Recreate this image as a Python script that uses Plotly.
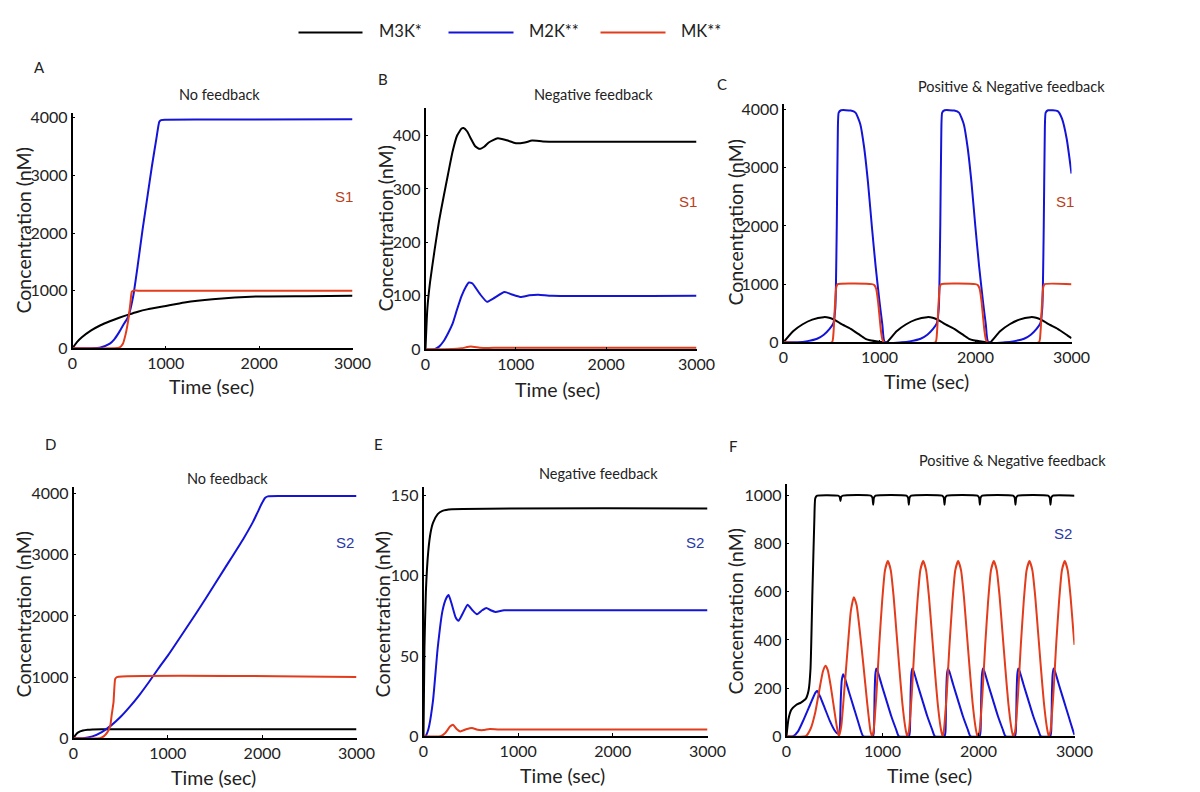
import plotly.graph_objects as go

W, H = 1200, 792

# ---------------- DATA ----------------
# Panel A: No feedback, S1
A_t_m3k = [0, 50, 100, 200, 300, 400, 500, 600, 700, 800, 1000, 1200, 1500, 2000, 2500, 3000]
A_m3k = [0, 110, 190, 310, 400, 470, 530, 585, 635, 675, 735, 795, 850, 900, 905, 910]
A_t_m2k = [0, 200, 300, 400, 450, 500, 550, 600, 650, 700, 750, 800, 850, 900, 930, 950, 1000, 1600, 3000]
A_m2k = [0, 2, 15, 80, 160, 280, 420, 560, 900, 1450, 2050, 2600, 3150, 3650, 3930, 3960, 3965, 3970, 3975]
A_t_mk = [0, 450, 500, 540, 570, 600, 620, 635, 650, 700, 3000]
A_mk = [0, 0, 10, 80, 250, 520, 780, 980, 1000, 1000, 1000]

# Panel B: Negative feedback, S1
B_t_m3k = [0, 20, 50, 100, 150, 200, 250, 300, 350, 400, 420, 460, 500, 550, 600, 650, 700, 800, 900, 1000, 1100, 1180, 1300, 1500, 3000]
B_m3k = [0, 75, 125, 185, 240, 285, 328, 370, 400, 413, 414, 408, 395, 380, 375, 379, 387, 395, 391, 385.5, 387, 390.5, 389, 388.5, 388.5]
B_t_m2k = [0, 100, 150, 200, 250, 300, 350, 400, 450, 480, 520, 600, 680, 750, 875, 950, 1050, 1150, 1250, 1400, 3000]
B_m2k = [0, 0, 5, 15, 30, 48, 75, 100, 118, 125, 123, 104, 89, 95, 107, 103, 98, 101, 102, 100, 100]
B_t_mk = [0, 300, 400, 500, 600, 700, 800, 1000, 3000]
B_mk = [0, 0.5, 2, 5, 3, 2.5, 3, 3, 3]

# Panel C: Positive & Negative feedback, S1
C_t_m3k = [0, 100, 200, 300, 418, 450, 500, 550, 600, 700, 800, 860, 900, 1000, 1062,
           1078, 1178, 1278, 1378, 1496, 1528, 1578, 1628, 1678, 1778, 1878, 1938, 1978, 2078, 2140,
           2156, 2256, 2356, 2456, 2574, 2606, 2656, 2706, 2756, 2856, 2956, 3000]
C_m3k = [0, 190, 310, 390, 432, 430, 410, 370, 315, 230, 120, 55, 35, 10, 0,
         0, 190, 310, 390, 432, 430, 410, 370, 315, 230, 120, 55, 35, 10, 0,
         0, 190, 310, 390, 432, 430, 410, 370, 315, 230, 120, 70]
C_t_m2k = [0, 150, 250, 350, 420, 480, 520, 540, 555, 565, 575, 600, 700, 750, 800, 840, 880, 920, 960, 1000, 1030, 1055,
           1228, 1328, 1428, 1498, 1558, 1598, 1618, 1633, 1643, 1653, 1678, 1778, 1828, 1878, 1918, 1958, 1998, 2038, 2078, 2108, 2133,
           2306, 2406, 2506, 2576, 2636, 2676, 2696, 2711, 2721, 2731, 2756, 2856, 2900, 2950, 3000]
C_m2k = [0, 0, 20, 60, 130, 230, 330, 600, 2000, 3500, 3950, 3990, 3985, 3950, 3750, 3350, 2750, 2000, 1300, 700, 300, 0,
         0, 20, 60, 130, 230, 330, 600, 2000, 3500, 3950, 3990, 3985, 3950, 3750, 3350, 2750, 2000, 1300, 700, 300, 0,
         0, 20, 60, 130, 230, 330, 600, 2000, 3500, 3950, 3990, 3975, 3850, 3500, 2900]
C_t_mk = [0, 505, 520, 535, 550, 565, 920, 945, 965, 985, 1000, 1015, 1030, 1045,
          1583, 1598, 1613, 1628, 1643, 1998, 2023, 2043, 2063, 2078, 2093, 2108, 2123,
          2661, 2676, 2691, 2706, 2721, 3000]
C_mk = [0, 0, 150, 600, 950, 1000, 1000, 985, 920, 700, 450, 200, 50, 0,
        0, 150, 600, 950, 1000, 1000, 985, 920, 700, 450, 200, 50, 0,
        0, 150, 600, 950, 1000, 1000]

# Panel D: No feedback, S2
D_t_m3k = [0, 25, 50, 100, 150, 200, 300, 3000]
D_m3k = [0, 60, 95, 125, 138, 143, 145, 145]
D_t_m2k = [0, 100, 200, 300, 400, 500, 600, 700, 800, 900, 1000, 1200, 1400, 1600, 1800, 1900, 1950, 2000, 2030, 2060, 2200, 3000]
D_m2k = [0, 0, 30, 100, 210, 350, 520, 710, 920, 1140, 1350, 1810, 2280, 2770, 3260, 3530, 3690, 3850, 3930, 3955, 3960, 3960]
D_t_mk = [0, 280, 320, 360, 389, 405, 424, 442, 460, 3000]
D_mk = [0, 0, 30, 100, 200, 380, 585, 970, 1000, 1000]

# Panel E: Negative feedback, S2
E_t_m3k = [0, 10, 25, 50, 75, 100, 150, 200, 300, 3000]
E_m3k = [0, 55, 90, 115, 127, 133, 138.5, 140.5, 141.5, 142]
E_t_m2k = [0, 20, 50, 100, 150, 200, 240, 265, 300, 340, 370, 410, 466, 510, 565, 620, 664, 710, 760, 850, 1000, 3000]
E_m2k = [0, 0, 4, 22, 55, 78, 86, 88, 82, 74, 72, 76, 82, 79, 76, 78.5, 80, 78.5, 77.5, 78.5, 78.5, 78.5]
E_t_mk = [0, 180, 230, 280, 311, 350, 388, 450, 512, 570, 630, 700, 800, 3000]
E_mk = [0, 0, 2, 6, 7.2, 4.5, 3, 4.3, 5.1, 4, 3.8, 4.5, 4.2, 4.2]

# Panel F: Positive & Negative feedback, S2
F_t_m3k = [0, 20, 50, 100, 150, 200, 230, 250, 270, 290, 300, 320,
           537, 554, 562, 570, 587,
           878, 895, 903, 911, 928,
           1249, 1266, 1274, 1282, 1299,
           1621, 1638, 1646, 1654, 1671,
           1989, 2006, 2014, 2022, 2039,
           2360, 2377, 2385, 2393, 2410,
           2725, 2742, 2750, 2758, 2775, 3000]
F_m3k = [0, 70, 110, 130, 140, 155, 190, 280, 600, 900, 990, 1000,
         1000, 995, 978, 995, 1000,
         1000, 992, 962, 992, 1000,
         1000, 992, 962, 992, 1000,
         1000, 992, 962, 992, 1000,
         1000, 992, 962, 992, 1000,
         1000, 992, 962, 992, 1000,
         1000, 992, 962, 992, 1000, 1000]
F_t_m2k = [0, 70, 120, 180, 250, 300, 319, 350, 400, 450, 500, 528, 545, 555, 565, 575, 590, 610, 650, 700, 750, 799,
           900, 910, 918, 925, 935, 950, 990, 1040, 1090, 1140, 1170,
           1275, 1285, 1293, 1300, 1310, 1325, 1365, 1415, 1465, 1515, 1545,
           1646, 1656, 1664, 1671, 1681, 1696, 1736, 1786, 1836, 1886, 1916,
           2011, 2021, 2029, 2036, 2046, 2061, 2101, 2151, 2201, 2251, 2281,
           2379, 2389, 2397, 2404, 2414, 2429, 2469, 2519, 2569, 2619, 2649,
           2747, 2757, 2765, 2772, 2782, 2797, 2837, 2887, 2937, 2987, 3000]
F_m2k = [0, 0, 20, 70, 135, 180, 189, 165, 115, 65, 25, 12, 12, 30, 150, 230, 258, 240, 185, 120, 55, 0,
         0, 20, 180, 255, 282, 270, 215, 150, 85, 30, 0,
         0, 20, 180, 255, 282, 270, 215, 150, 85, 30, 0,
         0, 20, 180, 255, 282, 270, 215, 150, 85, 30, 0,
         0, 20, 180, 255, 282, 270, 215, 150, 85, 30, 0,
         0, 20, 180, 255, 282, 270, 215, 150, 85, 30, 0,
         0, 20, 180, 255, 282, 270, 215, 150, 85, 20, 5]
F_t_mk = [0, 200, 250, 300, 350, 380, 406, 430, 460, 490, 520, 545,
          570, 600, 640, 670, 701, 730, 760, 800, 840, 875, 891,
          906, 936, 966, 996, 1026, 1056, 1086, 1116, 1146, 1176, 1206, 1236, 1256,
          1274, 1304, 1334, 1364, 1394, 1424, 1454, 1484, 1514, 1544, 1574, 1604, 1624,
          1638, 1668, 1698, 1728, 1758, 1788, 1818, 1848, 1878, 1908, 1938, 1968, 1988,
          2010, 2040, 2070, 2100, 2130, 2160, 2190, 2220, 2250, 2280, 2310, 2340, 2360,
          2381, 2411, 2441, 2471, 2501, 2531, 2561, 2591, 2621, 2651, 2681, 2711, 2731,
          2749, 2779, 2809, 2839, 2869, 2899, 2929, 2959, 2989, 3000]
F_mk = [0, 0, 30, 100, 210, 270, 293, 275, 210, 130, 50, 0,
        40, 180, 380, 520, 578, 545, 450, 300, 140, 20, 0,
        20, 170, 380, 560, 690, 728, 690, 580, 430, 280, 140, 40, 0,
        20, 170, 380, 560, 690, 728, 690, 580, 430, 280, 140, 40, 0,
        20, 170, 380, 560, 690, 728, 690, 580, 430, 280, 140, 40, 0,
        20, 170, 380, 560, 690, 728, 690, 580, 430, 280, 140, 40, 0,
        20, 170, 380, 560, 690, 728, 690, 580, 430, 280, 140, 40, 0,
        20, 170, 380, 560, 690, 728, 690, 580, 430, 380]

SERIES_NAMES = ["M3K*", "M2K**", "MK**"]
COLORS = ["#000000", "#1414d8", "#e23c1c"]

X_TICKS = [0, 1000, 2000, 3000]
Y_TICKS = {
    "A": [0, 1000, 2000, 3000, 4000],
    "B": [0, 100, 200, 300, 400],
    "C": [0, 1000, 2000, 3000, 4000],
    "D": [0, 1000, 2000, 3000, 4000],
    "E": [0, 50, 100, 150],
    "F": [0, 200, 400, 600, 800, 1000],
}
Y_MAX = {"A": 4087, "B": 452, "C": 4103, "D": 4115, "E": 155.6, "F": 1050}
TITLES = {"A": "No feedback", "B": "Negative feedback", "C": "Positive & Negative feedback",
          "D": "No feedback", "E": "Negative feedback", "F": "Positive & Negative feedback"}
STIM = {"A": "S1", "B": "S1", "C": "S1", "D": "S2", "E": "S2", "F": "S2"}

DATA = {
    "A": [(A_t_m3k, A_m3k), (A_t_m2k, A_m2k), (A_t_mk, A_mk)],
    "B": [(B_t_m3k, B_m3k), (B_t_m2k, B_m2k), (B_t_mk, B_mk)],
    "C": [(C_t_m3k, C_m3k), (C_t_m2k, C_m2k), (C_t_mk, C_mk)],
    "D": [(D_t_m3k, D_m3k), (D_t_m2k, D_m2k), (D_t_mk, D_mk)],
    "E": [(E_t_m3k, E_m3k), (E_t_m2k, E_m2k), (E_t_mk, E_mk)],
    "F": [(F_t_m3k, F_m3k), (F_t_m2k, F_m2k), (F_t_mk, F_mk)],
}

# ---------------- LAYOUT (target pixel positions) ----------------
BOX = {
    "A": (72, 352, 112, 347),
    "B": (425, 696, 107, 348),
    "C": (783, 1071, 103, 341),
    "D": (73, 356, 485, 736),
    "E": (423, 707, 485, 734),
    "F": (786, 1074, 482, 734),
}
LETTER_POS = {"A": (39, 66), "B": (382, 78), "C": (721, 83), "D": (50, 442), "E": (378, 442), "F": (732, 444)}
TITLE_POS = {"A": (219, 94), "B": (593, 94), "C": (1011, 86), "D": (227, 477), "E": (598, 472), "F": (1012, 459)}
STIM_POS = {"A": (343, 196), "B": (687, 201), "C": (1064, 201), "D": (344, 541), "E": (694, 541), "F": (1062, 532)}
XT_POS = {"A": (211, 385), "B": (557, 388), "C": (926, 380), "D": (213, 775), "E": (562, 773), "F": (929, 773)}
YT_POS = {"A": (23, 230), "B": (385, 228), "C": (735, 222), "D": (23, 613), "E": (382, 613), "F": (735, 610)}

FONT = "Lato, 'Open Sans', sans-serif"

# the rendered page shows the figure slightly shrunk and offset; compensate
OFF, SC = 12.5, 0.98


def px(x):
    return ((x - OFF) / SC) / W


def py(y):
    return 1 - ((y - OFF) / SC) / H


fig = go.Figure()
annotations = []
shapes = []
layout_axes = {}


def ann(pos, text, size, color="#222", family=FONT, angle=0):
    annotations.append(dict(x=px(pos[0]), y=py(pos[1]), xref="paper", yref="paper",
                            text=text, showarrow=False, xanchor="center", yanchor="middle",
                            textangle=angle, font=dict(family=family, size=size, color=color)))


for i, key in enumerate(["A", "B", "C", "D", "E", "F"]):
    n = i + 1
    xa = "x" if n == 1 else f"x{n}"
    ya = "y" if n == 1 else f"y{n}"
    l, r, t, b = BOX[key]
    for s, (tt, vv) in enumerate(DATA[key]):
        fig.add_trace(go.Scatter(
            x=tt, y=vv, mode="lines", name=SERIES_NAMES[s], showlegend=False,
            line=dict(color=COLORS[s], width=2, shape="spline", smoothing=0.5),
            xaxis=xa, yaxis=ya, hoverinfo="skip"))
    common = dict(showgrid=False, zeroline=False, showline=True, linecolor="black", linewidth=1.5,
                  ticks="inside", ticklen=3, tickwidth=1, tickcolor="black",
                  tickfont=dict(family=FONT, size=16, color="#222"))
    layout_axes["xaxis" if n == 1 else f"xaxis{n}"] = dict(
        domain=[px(l), px(r)], range=[0, 3000], tickvals=X_TICKS,
        anchor=ya, **common)
    layout_axes["yaxis" if n == 1 else f"yaxis{n}"] = dict(
        domain=[py(b), py(t)], range=[0, Y_MAX[key]], tickvals=Y_TICKS[key],
        anchor=xa, **common)

    ann(LETTER_POS[key], key, 15)
    ann(TITLE_POS[key], TITLES[key], 14.5)
    ann(STIM_POS[key], STIM[key], 15,
        color="#b8401c" if STIM[key] == "S1" else "#2a38a8", family="'Liberation Sans', Arial, sans-serif")
    ann(XT_POS[key], "Time (sec)", 19.5)
    ann(YT_POS[key], "Concentration (nM)", 19.5, angle=-90)

# legend drawn at the top
LEG = [(298, 362, 400, "M3K*"), (448, 513, 553, "M2K**"), (600, 665, 700, "MK**")]
for s, (x0, x1, tx, label) in enumerate(LEG):
    shapes.append(dict(type="line", xref="paper", yref="paper", x0=px(x0), x1=px(x1),
                       y0=py(32), y1=py(32), line=dict(color=COLORS[s], width=2)))
    annotations.append(dict(x=px(tx), y=py(30), xref="paper", yref="paper", text=label,
                            showarrow=False, xanchor="center", yanchor="middle",
                            font=dict(family=FONT, size=16.5, color="#222")))

fig.update_layout(width=W, height=H, margin=dict(l=0, r=0, t=0, b=0),
                  paper_bgcolor="white", plot_bgcolor="white", showlegend=False,
                  annotations=annotations, shapes=shapes, **layout_axes)

fig.write_html("out.html")
